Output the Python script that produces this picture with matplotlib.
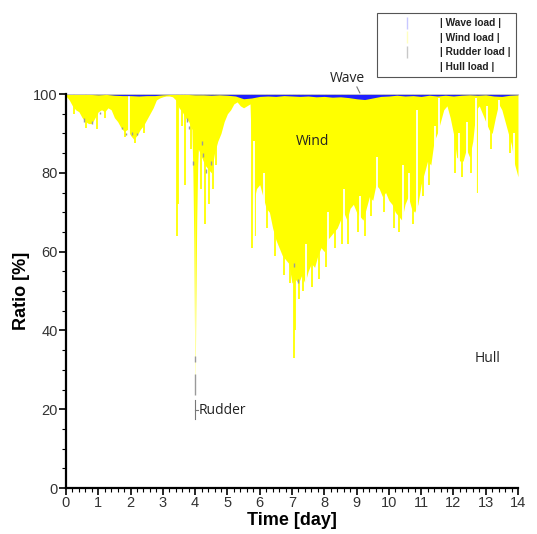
import matplotlib
matplotlib.use("Agg")
import matplotlib.pyplot as plt
import numpy as np
from matplotlib.lines import Line2D

# ---------------- data ----------------
# lower edge of the wind band (= hull + rudder share), every 0.1 day
days = np.round(np.arange(0, 14.0001, 0.1), 2)
hull_top = [
    99.5, 98.5, 97, 96, 95.5, 94, 93, 92.5, 92.5, 94,            # 0.0-0.9
    95.5, 96, 95.5, 96.5, 96, 94, 93, 91.5, 90.5, 91,            # 1.0-1.9
    89.5, 88.5, 89.5, 91, 92, 93.5, 95, 96.5, 98.5, 99,          # 2.0-2.9
    99.3, 99.5, 99.5, 99.3, 98.5, 96.5, 95.5, 94, 93, 91,        # 3.0-3.9
    78, 86, 84, 82, 81, 80, 85, 88, 90, 93,                      # 4.0-4.9
    95, 96, 97.5, 98, 97, 96.5, 97, 97.5, 72, 76,                # 5.0-5.9
    77, 74, 71, 70, 66, 63, 61, 59, 58, 57,                      # 6.0-6.9
    52, 53, 52, 54, 52, 55, 57, 56, 59, 61,                      # 7.0-7.9
    60, 63, 64, 65, 66, 68, 70, 68, 71, 72,                      # 8.0-8.9
    70, 69, 68, 71, 74, 73, 77, 76, 74, 75,                      # 9.0-9.9
    73, 72, 70, 69, 68, 72, 74, 71, 70, 72,                      # 10.0-10.9
    77, 80, 83, 82, 88, 90, 93, 96, 97, 94,                      # 11.0-11.9
    90, 84, 83, 83, 86, 84, 88, 96, 97, 95,                      # 12.0-12.9
    93, 91, 90, 94, 97.5, 96, 93, 90, 87, 82,                    # 13.0-13.9
    79,                                                          # 14.0
]

# the deep, narrow dip near day 4
dip_days = [3.93, 3.96, 3.98, 4.00, 4.02, 4.05, 4.08]
dip_vals = [80, 62, 40, 23.5, 45, 68, 82]

# thin spikes of the wind share reaching further down
wind_spike_days = [0.25, 0.62, 0.95, 1.22, 1.82, 2.15, 2.42, 3.44, 3.47, 3.58,
                   3.70, 3.86, 4.18, 4.30, 4.42, 4.55, 4.66, 5.77, 5.85, 6.22,
                   6.48, 6.75, 6.95, 7.07, 7.10, 7.22, 7.35, 7.62, 7.85, 8.05,
                   8.32, 8.55, 8.75, 9.05, 9.25, 9.45, 9.85, 10.15, 10.32, 10.75,
                   11.05, 11.25, 12.05, 12.28, 12.55, 12.72, 13.15, 13.75]
wind_spike_vals = [95, 91.5, 91, 94, 89, 87.5, 90, 64, 72, 92,
                   77, 86, 76, 67, 72, 76, 82, 61, 64, 66,
                   59, 54, 52, 33, 40, 48, 50, 51, 53, 56,
                   61, 62, 62, 65, 64, 69, 70, 66, 65, 67,
                   74, 77, 80, 79, 80, 75, 86, 85]

# thin upward gaps of the hull share
hull_spike_days = [1.94, 5.82, 6.12, 7.42, 8.12, 8.62, 9.12, 9.62, 10.45, 10.62,
                   10.88, 11.42, 11.56, 12.18, 12.42, 12.70, 13.05, 13.42, 13.88]
hull_spike_vals = [100, 88, 80, 62, 70, 76, 74, 84, 82, 80,
                   96, 92, 99, 90, 93, 99, 97, 98.5, 90]

# wave share at the top, every 0.25 day
wave_days = np.arange(0, 14.0001, 0.25)
wave_share = [0.1, 0.1, 0.1, 0.1, 0.2, 0.1, 0.3, 0.4, 0.4, 0.5,
              0.4, 0.4, 0.2, 0.1, 0.1, 0.1, 0.2, 0.2, 0.3, 0.2,
              0.3, 0.5, 1.2, 1.0, 0.6, 0.5, 0.6, 0.4, 0.5, 0.6,
              0.5, 0.7, 0.6, 0.8, 0.7, 0.9, 1.2, 1.4, 1.0, 0.6,
              0.5, 0.3, 0.5, 0.4, 0.6, 0.3, 0.5, 0.3, 0.5, 0.3,
              0.2, 0.3, 0.2, 0.5, 0.6, 0.3, 0.2]

# rudder share marks (day, base, share)
rudder_days = [0.55, 0.80, 1.05, 1.75, 1.85, 2.05, 2.20, 3.75, 3.80, 3.92,
               4.00, 4.00, 4.22, 4.25, 4.35, 4.50, 7.05, 7.20]
rudder_base = [93, 92.5, 95, 91, 89.5, 89.5, 89.5, 93, 91, 82,
               23.5, 32, 87, 84, 80, 82, 56, 52]
rudder_share = [0.8, 0.6, 0.5, 0.7, 0.6, 0.8, 0.6, 0.8, 1.0, 1.0,
                5.5, 1.5, 1.0, 1.0, 1.0, 1.0, 1.0, 1.0]

legend_labels = ["| Wave load |", "| Wind load |", "| Rudder load |", "| Hull load |"]

# ---------------- drawing ----------------
YEL = "#ffff00"
BLUE = "#2020ff"

t = np.concatenate([days, dip_days])
h = np.concatenate([hull_top, dip_vals])
order = np.argsort(t, kind="stable")
t, h = t[order], h[order]

fig = plt.figure(figsize=(5.37, 5.34), dpi=100)
ax = fig.add_axes([0.1229, 0.0861, 0.8417, 0.7378])

ax.fill_between(t, h, 100, color=YEL, lw=0, zorder=2)
ax.vlines(wind_spike_days, wind_spike_vals, 100, color=YEL, lw=1.3, zorder=2)
ax.vlines(hull_spike_days, 0, hull_spike_vals, color="white", lw=1.3, zorder=3)
ax.vlines(rudder_days, rudder_base, np.add(rudder_base, rudder_share),
          color="#9a9a9a", lw=1.0, zorder=4)
ax.fill_between(wave_days, 100 - np.array(wave_share), 100, color=BLUE, lw=0, zorder=5)
ax.axhline(100, color="#c8c8d0", lw=0.6, zorder=6)

ax.set_xlim(0, 14)
ax.set_ylim(0, 100)
for s in ["top", "right"]:
    ax.spines[s].set_visible(False)
for s in ["left", "bottom"]:
    ax.spines[s].set_linewidth(1.6)
    ax.spines[s].set_zorder(10)

ax.set_xticks(range(0, 15))
ax.set_xticks(np.arange(0, 14.01, 0.2), minor=True)
ax.set_yticks(range(0, 101, 20))
ax.set_yticks(range(0, 101, 5), minor=True)
ax.tick_params(which="major", length=5, width=1.2, labelsize=10.5, pad=1,
               labelcolor="#333333")
ax.tick_params(which="minor", length=3, width=0.8)
for lab in ax.get_xticklabels() + ax.get_yticklabels():
    lab.set_family("Liberation Sans")

ax.set_xlabel("Time [day]", fontsize=13, fontweight="bold", family="Liberation Sans",
              labelpad=1)
ax.set_ylabel("Ratio [%]", fontsize=13, fontweight="bold", family="Liberation Sans",
              labelpad=2)

ann_font = dict(family="Open Sans", fontsize=10, color="#222222")
ax.text(7.65, 88, "Wind", ha="center", va="center", zorder=8, **ann_font)
ax.text(13.07, 33, "Hull", ha="center", va="center", zorder=8, **ann_font)
ax.text(8.73, 104, "Wave", ha="center", va="center", clip_on=False, zorder=8, **ann_font)
ax.plot([9.01, 9.10], [101.8, 100.3], color="#777777", lw=0.8, clip_on=False, zorder=8)
ax.text(4.12, 19.8, "Rudder", ha="left", va="center", zorder=8, **ann_font)
ax.plot([4.0, 4.0], [17.6, 22.4], color="#777777", lw=0.8, zorder=8)
ax.plot([4.0, 4.09], [19.9, 19.9], color="#777777", lw=0.8, zorder=8)

handles = [Line2D([], [], marker="|", ls="none", markersize=9, markeredgewidth=1,
                  color=c) for c in ["#c8c8ff", "#ffffc0", "#c8c8c8", "white"]]
leg = fig.legend(handles, legend_labels, loc="upper right", bbox_to_anchor=(0.970, 0.985),
                 frameon=True, fancybox=False, edgecolor="#555555", framealpha=1,
                 prop=dict(family="Liberation Sans", weight="bold", size=7.3),
                 handlelength=4.8, handletextpad=0.9, labelspacing=0.45,
                 borderpad=0.5)
leg.get_frame().set_linewidth(0.8)
for txt in leg.get_texts():
    txt.set_color("#222222")

fig.savefig("out.png", dpi=100)
